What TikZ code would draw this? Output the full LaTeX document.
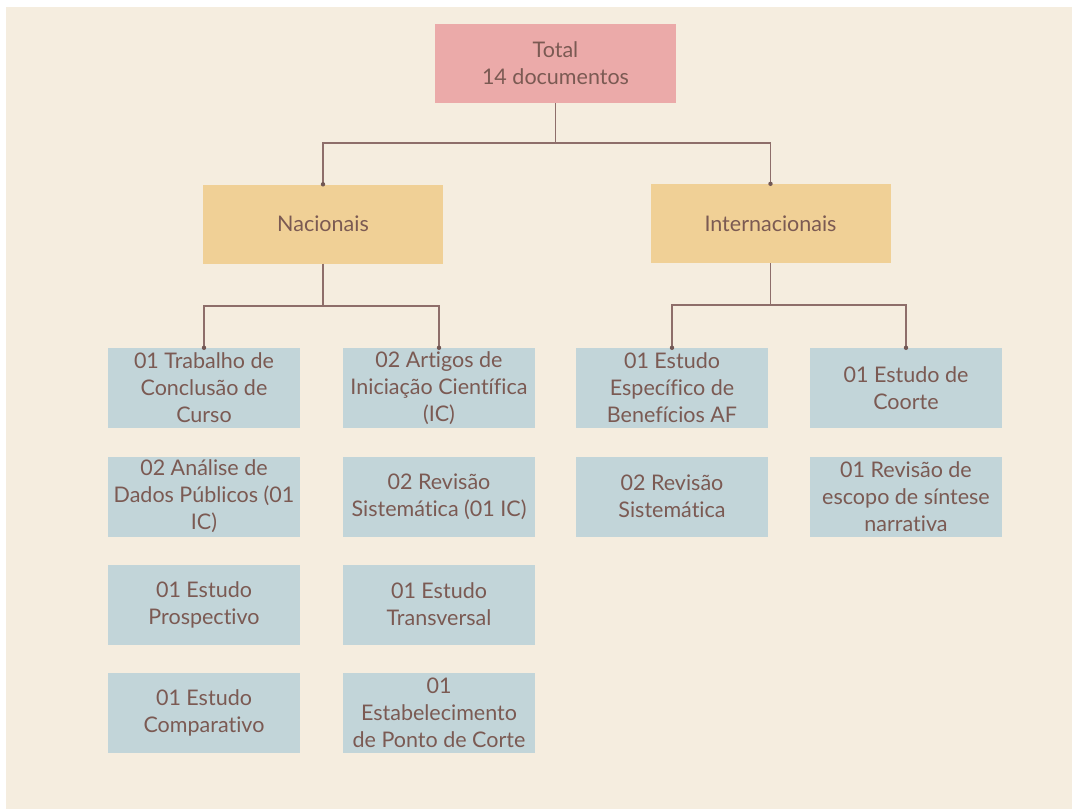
\documentclass[tikz,border=0pt]{standalone}
\usepackage{fontspec}
\setmainfont[Ligatures=NoCommon]{Lato}
\usepackage{tikz}
\usetikzlibrary{positioning}

\definecolor{beige}{HTML}{F5EDDF}
\definecolor{rosa}{HTML}{EBAAA9}
\definecolor{amarelo}{HTML}{F0D096}
\definecolor{azul}{HTML}{C2D5D9}
\definecolor{linha}{HTML}{8E6E6A}
\definecolor{texto}{HTML}{7B5A53}

\tikzset{
  caixa/.style = {minimum width=192pt, minimum height=80pt, inner sep=0pt,
                  align=center, text=texto, font=\fontsize{21.5}{27}\selectfont},
  topo/.style = {caixa, fill=rosa, minimum width=241pt, minimum height=79pt},
  grupo/.style = {caixa, fill=amarelo, minimum width=240pt, minimum height=79pt},
  item/.style = {caixa, fill=azul},
  ligacao/.style = {draw=linha, line width=1.5pt},
  ponto/.style = {fill=linha!80!black}
}

\begin{document}
\begin{tikzpicture}[x=1pt, y=-1pt]
\useasboundingbox (0,0) rectangle (1072,809);
\fill [beige] (6,7) rectangle (1072,809);

% niveis de cima
\node [topo] (total) at (555.5,63.5) {Total\\14 documentos};
\node [grupo] (nac) at (323,224) {Nacionais};
\node [grupo] (int) at (770.5,223.5) {Internacionais};

% nacionais
\node [item] (n1) at (204,388) {01 Trabalho de\\Conclusão de\\Curso};
\node [item] (n2) at (439,388) {02 Artigos de\\Iniciação Científica\\(IC)};
\node [item] (n3) at (204,496.5) {02 Análise de\\Dados Públicos (01\\IC)};
\node [item] (n4) at (439,496.5) {02 Revisão\\Sistemática (01 IC)};
\node [item] (n5) at (204,604.5) {01 Estudo\\Prospectivo};
\node [item] (n6) at (439,604.5) {01 Estudo\\Transversal};
\node [item] (n7) at (204,713) {01 Estudo\\Comparativo};
\node [item] (n8) at (439,713) {01\\Estabelecimento\\de Ponto de Corte};

% internacionais
\node [item] (i1) at (672,388) {01 Estudo\\Específico de\\Benefícios AF};
\node [item] (i2) at (906,388) {01 Estudo de\\Coorte};
\node [item] (i3) at (672,496.5) {02 Revisão\\Sistemática};
\node [item] (i4) at (906,496.5) {01 Revisão de\\escopo de síntese\\narrativa};

% ligacoes
\coordinate (totsplit) at (555.5,143);
\coordinate (nacsplit) at (323,306);
\coordinate (intsplit) at (770.5,305);
\draw [ligacao] (total.south) -- (totsplit);
\draw [ligacao] (totsplit) -| (nac.north);
\draw [ligacao] (totsplit) -| (int.north);
\draw [ligacao] (nac.south) -- (nacsplit);
\draw [ligacao] (nacsplit) -| (n1.north);
\draw [ligacao] (nacsplit) -| (n2.north);
\draw [ligacao] (int.south) -- (intsplit);
\draw [ligacao] (intsplit) -| (i1.north);
\draw [ligacao] (intsplit) -| (i2.north);
\foreach \n in {nac,int,n1,n2,i1,i2}
  \fill [ponto] (\n.north) circle [radius = 2.2];
\end{tikzpicture}
\end{document}
